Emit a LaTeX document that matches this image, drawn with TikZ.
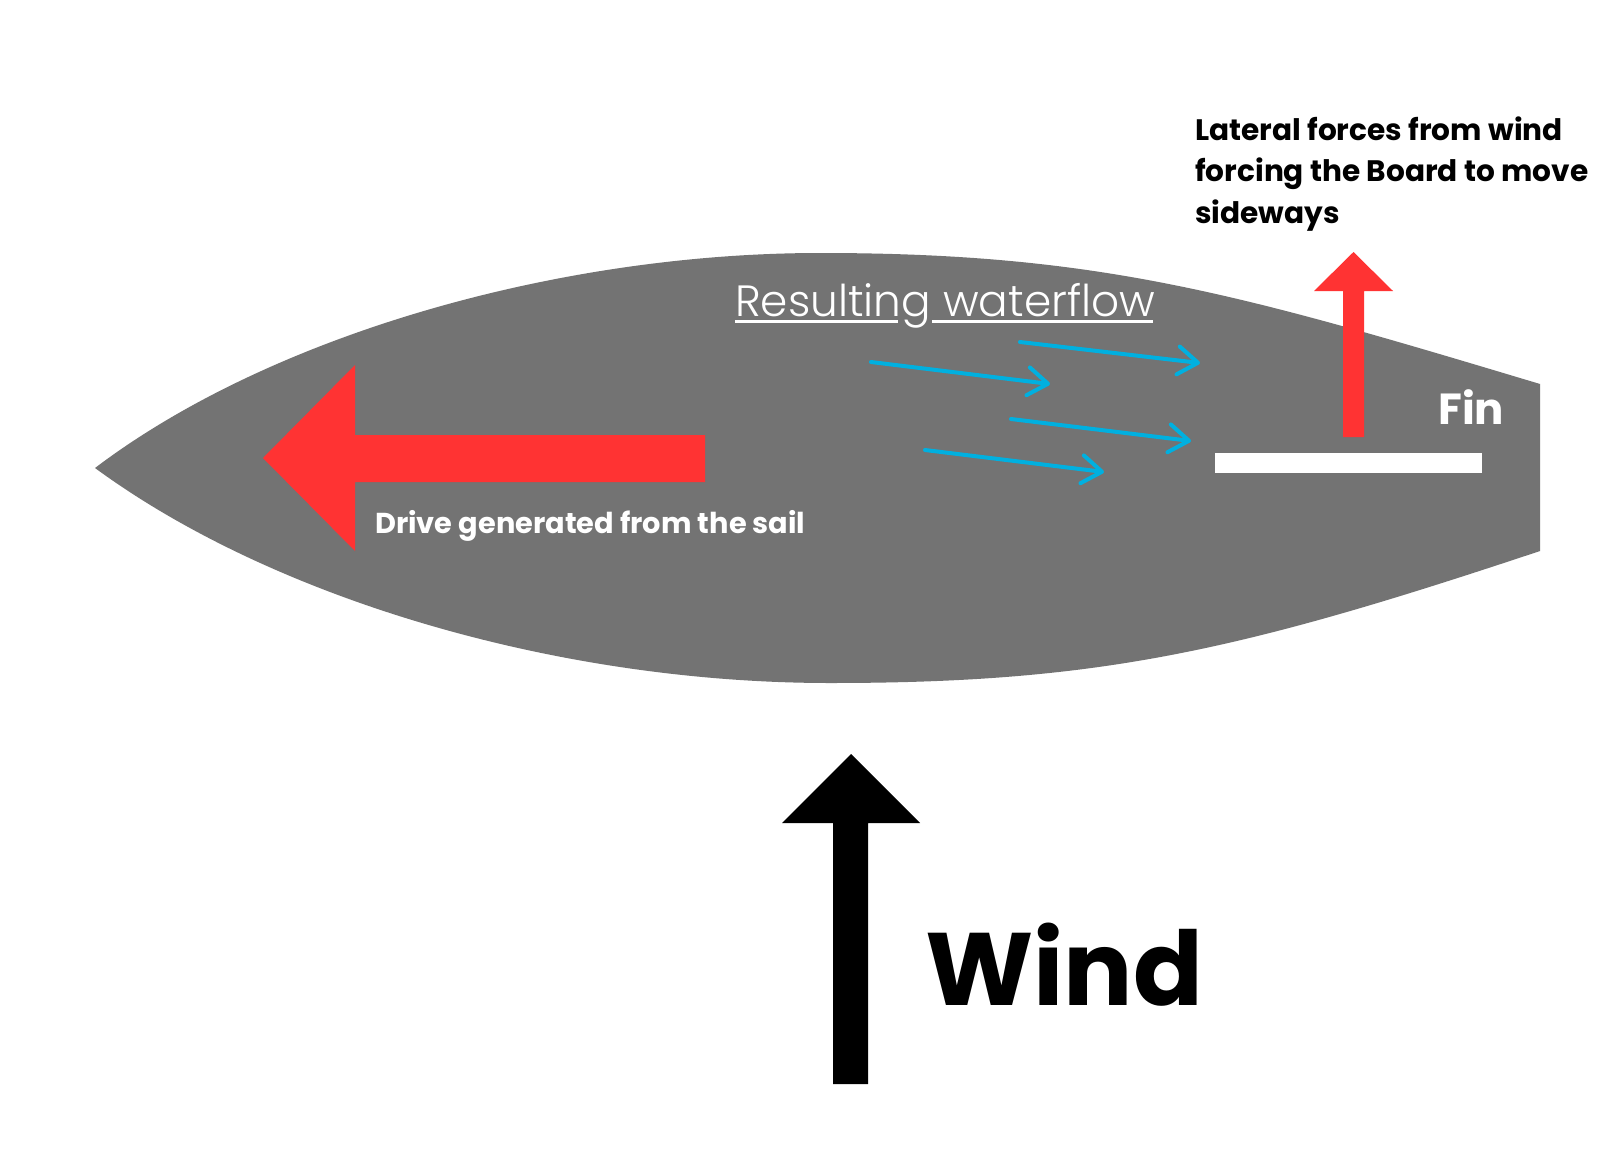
\documentclass[tikz,border=0pt]{standalone}
\usepackage{fontspec}
\setmainfont{Poppins}
\newfontfamily\popsemi{Poppins SemiBold}
\newfontfamily\poplight{Poppins Light}
\newfontfamily\popbold{Poppins Bold}
\usetikzlibrary{arrows.meta}
\definecolor{boardgrey}{RGB}{115,115,115}
\definecolor{forcered}{RGB}{255,51,51}
\definecolor{flowblue}{RGB}{0,176,224}
\begin{document}
\begin{tikzpicture}[x=1pt,y=-1pt,
  flow/.style={draw=flowblue, line width=4pt, line cap=round,
    -{Straight Barb[length=20pt,width=28pt,round]}},
  lbl/.style={inner sep=0pt, anchor=base west}]
\useasboundingbox[fill=white] (0,0) rectangle (1620,1151);
% board
\fill[boardgrey] (95,468) .. controls (272,334) and (560,253) .. (820,253)
  .. controls (1100,253) and (1240,294) .. (1540,384) -- (1540,551)
  .. controls (1240,651) and (1100,683) .. (830,683)
  .. controls (560,683) and (275,600) .. (95,468) -- cycle;
% drive arrow
\fill[forcered] (263,458) -- (355,365) -- (355,435) -- (705,435) -- (705,482)
  -- (355,482) -- (355,551) -- cycle;
% lateral arrow
\fill[forcered] (1353.5,252) -- (1393,291) -- (1364,291) -- (1364,437)
  -- (1343,437) -- (1343,291) -- (1314,291) -- cycle;
% wind arrow
\fill[black] (851,754) -- (920,823) -- (868,823) -- (868,1084)
  -- (833,1084) -- (833,823) -- (782,823) -- cycle;
% fin
\fill[white] (1215,453) rectangle (1482,473);
% waterflow arrows
\coordinate (f1s) at (1020,342); \coordinate (f1e) at (1200,363);
\coordinate (f2s) at (871,362);  \coordinate (f2e) at (1050,384);
\coordinate (f3s) at (1011,419); \coordinate (f3e) at (1191,441);
\coordinate (f4s) at (925,450);  \coordinate (f4e) at (1104,472);
\draw[flow] (f1s) -- (f1e);
\draw[flow] (f2s) -- (f2e);
\draw[flow] (f3s) -- (f3e);
\draw[flow] (f4s) -- (f4e);
% texts
\node[lbl, text=white, font=\popbold\fontsize{28.8}{34}\selectfont] (drive) at (375,533) {Drive generated from the sail};
\node[lbl, text=white, font=\poplight\fontsize{43.8}{52}\selectfont] (flowtxt) at (735,316) {Resulting waterflow};
\fill[white] (735,320) rectangle (898,323);
\fill[white] (932,320) rectangle (1153,323);
\node[lbl, text=white, font=\popbold\fontsize{43.5}{52}\selectfont] (fin) at (1438,424) {Fin};
\node[lbl, text=black, font=\popbold\fontsize{103}{120}\selectfont] (wind) at (925,1005) {Wind};
\node[lbl, text=black, font=\popbold\fontsize{29.6}{34}\selectfont] (lat1) at (1195,140) {Lateral forces from wind};
\node[lbl, text=black, font=\popbold\fontsize{29.6}{34}\selectfont] (lat2) at (1195,181.5) {forcing the Board to move};
\node[lbl, text=black, font=\popbold\fontsize{29.6}{34}\selectfont] (lat3) at (1195,223) {sideways};
\end{tikzpicture}
\end{document}
